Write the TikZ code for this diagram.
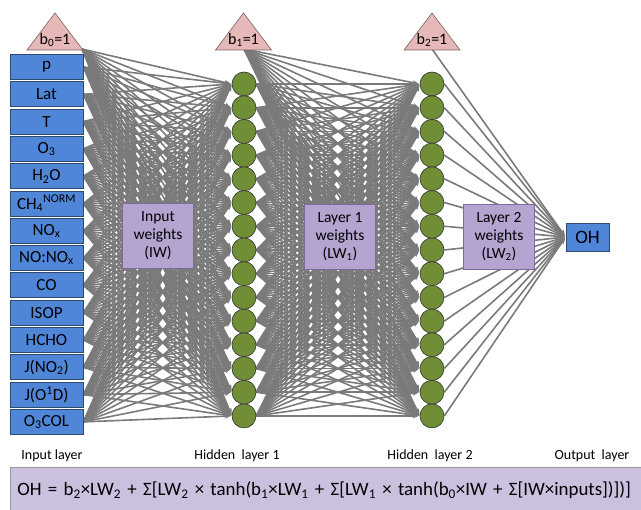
\documentclass[tikz,border=0pt]{standalone}
\usepackage{fontspec}
\setmainfont{Carlito}
\usetikzlibrary{arrows.meta}

\definecolor{inblue}{HTML}{4F86D8}
\definecolor{inedge}{HTML}{2E4A6E}
\definecolor{hidgreen}{HTML}{6F8E35}
\definecolor{biaspink}{HTML}{E6B8B7}
\definecolor{biasedge}{HTML}{7A6464}
\definecolor{wtpurple}{HTML}{B4A4CF}
\definecolor{wtedge}{HTML}{7F6A9E}
\definecolor{eqfill}{HTML}{CBC0DE}
\definecolor{eqedge}{HTML}{9A96A6}
\definecolor{wiregray}{HTML}{7A7A7A}

\pgfdeclarelayer{bg}
\pgfsetlayers{bg,main}

\begin{document}
\begin{tikzpicture}[x=1pt,y=-1pt,
    inbox/.style={draw=inedge,fill=inblue,line width=0.8pt,minimum width=73pt,minimum height=25pt,inner sep=0pt,font=\fontsize{17}{19}\selectfont},
    hid/.style={circle,draw=black!80,fill=hidgreen,line width=0.6pt,minimum size=24pt,inner sep=0pt},
    wtbox/.style={draw=wtedge,fill=wtpurple,line width=0.8pt,minimum width=71pt,minimum height=65pt,align=center,font=\fontsize{15.5}{18}\selectfont},
    tri/.style={draw=biasedge,fill=biaspink,line width=0.6pt},
    biastext/.style={inner sep=0pt,font=\fontsize{16}{18}\selectfont},
    wire/.style={draw=wiregray,line width=1.6pt,-{Stealth[length=6pt,width=5pt]},shorten >=1pt},
    lbl/.style={font=\fontsize{14}{16}\selectfont}]
    \useasboundingbox (0,0) rectangle (641,510);

    % bias units
    \foreach \k/\x in {0/55,1/243.5,2/432} {
        \draw[tri] (\x,13) -- ++(28,37) -- ++(-56,0) -- cycle;
        \node[biastext] (b\k) at (\x,40) {b\textsubscript{\k}=1};
    }
    \coordinate (b0s) at (82,49);
    \coordinate (b1s) at (244,49);
    \coordinate (b2s) at (432,49);

    % input layer
    \foreach \lab [count=\i] in {p, Lat, T, O\textsubscript{3}, H\textsubscript{2}O, CH\textsubscript{4}\textsuperscript{NORM},
        NO\textsubscript{x}, NO:NO\textsubscript{x}, CO, ISOP, HCHO, J(NO\textsubscript{2}), J(O\textsuperscript{1}D), O\textsubscript{3}COL}
        \node[inbox] (in\i) at (46.5,{67+27.3*(\i-1)}) {\lab};

    % hidden layers
    \foreach \j in {1,...,15} {
        \node[hid] (h\j) at (244,{84+23.71*(\j-1)}) {};
        \node[hid] (k\j) at (432,{84+23.71*(\j-1)}) {};
    }

    % output
    \node[inbox,minimum width=43pt,minimum height=28pt,font=\fontsize{19}{21}\selectfont] (oh) at (587.5,237) {OH};

    % weights
    \begin{pgfonlayer}{bg}
        \foreach \j in {1,...,15} {
            \draw[wire] (b0s) -- (h\j.west);
            \foreach \i in {1,...,14}
                \draw[wire] (in\i.east) -- (h\j.west);
            \draw[wire] (b1s) -- (k\j.west);
            \foreach \i in {1,...,15}
                \draw[wire] (h\i.east) -- (k\j.west);
            \draw[wire] (k\j.east) -- (oh.west);
        }
        \draw[wire] (b2s) -- (oh.west);
    \end{pgfonlayer}

    \node[wtbox] (iw) at (158,236) {Input\\weights\\(IW)};
    \node[wtbox] (lw1) at (340,236.5) {Layer 1\\weights\\(LW\textsubscript{1})};
    \node[wtbox] (lw2) at (499,236.5) {Layer 2\\weights\\(LW\textsubscript{2})};

    % layer names
    \node[lbl] (lin) at (52,456) {Input layer};
    \node[lbl] (lh1) at (237,456) {Hidden\ \ layer 1};
    \node[lbl] (lh2) at (430,456) {Hidden\ \ layer 2};
    \node[lbl] (lout) at (592,456) {Output\ \ layer};

    % formula
    \node[draw=eqedge,fill=eqfill,line width=0.8pt,anchor=north west,minimum height=46pt,text width=632pt,inner xsep=7pt,align=left,font=\fontsize{18.9}{21}\selectfont] (eq) at (10,467)
        {OH = b\textsubscript{2}×LW\textsubscript{2} + Σ[LW\textsubscript{2} × tanh(b\textsubscript{1}×LW\textsubscript{1} + Σ[LW\textsubscript{1} × tanh(b\textsubscript{0}×IW + Σ[IW×inputs])])]};
\end{tikzpicture}
\end{document}
